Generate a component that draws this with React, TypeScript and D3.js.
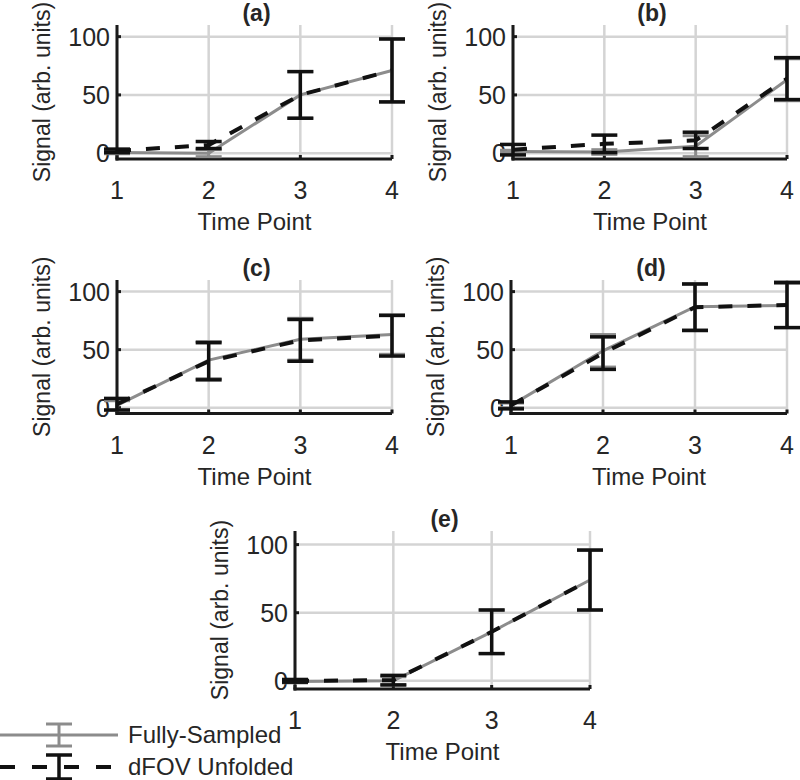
import React from "react";
import * as d3 from "d3";

// ---------- data ----------
const timePoints = [1, 2, 3, 4];
const xTickValues = [1, 2, 3, 4];
const yTickValues = [0, 50, 100];
const panelTitles = ["(a)", "(b)", "(c)", "(d)", "(e)"];
const xAxisLabel = "Time Point";
const yAxisLabel = "Signal (arb. units)";
const legendLabels = ["Fully-Sampled", "dFOV Unfolded"];

// Fully-Sampled (gray, solid)
const fsMeanA = [0.5, 0, 50, 71];
const fsErrA = [1, 3, 20, 27];
const fsMeanB = [1.5, 1, 6, 63];
const fsErrB = [1, 2, 9, 18];
const fsMeanC = [2, 41, 59, 63];
const fsErrC = [4, 16, 18, 17];
const fsMeanD = [2, 49, 87, 88];
const fsErrD = [2, 14, 20, 19];
const fsMeanE = [-0.5, 0, 36, 74];
const fsErrE = [1, 3, 16, 22];

// dFOV Unfolded (black, dashed)
const dfMeanA = [2, 7, 50, 71];
const dfErrA = [1.5, 3, 20, 27];
const dfMeanB = [3, 8, 11, 64];
const dfErrB = [4.5, 7.5, 7, 18];
const dfMeanC = [3, 40, 58, 62];
const dfErrC = [5, 16, 18, 17.5];
const dfMeanD = [2, 47, 86.5, 88.5];
const dfErrD = [3, 14, 20, 19.5];
const dfMeanE = [0, 0.5, 36, 74];
const dfErrE = [1, 3.5, 16, 22];

// ---------- layout / style ----------
const FONT = "'Liberation Sans', Arial, Helvetica, sans-serif";
const TEXT = "#262626";
const AXIS = "#1a1a1a";
const GRID = "#d4d4d4";
const GRAY = "#8c8c8c";
const BLACK = "#111111";
const CAP = 13;

type Layout = { x0: number; x1: number; yTop: number; yBot: number; yMin: number; yMax: number };

const layouts: Layout[] = [
  { x0: 117, x1: 392, yTop: 25, yBot: 159, yMin: -5, yMax: 110 },
  { x0: 513, x1: 787, yTop: 25, yBot: 159, yMin: -5, yMax: 110 },
  { x0: 117, x1: 392, yTop: 280, yBot: 413.5, yMin: -5, yMax: 110 },
  { x0: 511, x1: 787, yTop: 280, yBot: 413.5, yMin: -5, yMax: 110 },
  { x0: 295, x1: 590, yTop: 531, yBot: 689, yMin: -6, yMax: 110 },
];

const panelData = [
  { fsMean: fsMeanA, fsErr: fsErrA, dfMean: dfMeanA, dfErr: dfErrA },
  { fsMean: fsMeanB, fsErr: fsErrB, dfMean: dfMeanB, dfErr: dfErrB },
  { fsMean: fsMeanC, fsErr: fsErrC, dfMean: dfMeanC, dfErr: dfErrC },
  { fsMean: fsMeanD, fsErr: fsErrD, dfMean: dfMeanD, dfErr: dfErrD },
  { fsMean: fsMeanE, fsErr: fsErrE, dfMean: dfMeanE, dfErr: dfErrE },
];

function ErrorBars({ xs, means, errs, x, y, color, width }: any) {
  return (
    <g stroke={color} strokeWidth={width} fill="none">
      {xs.map((t: number, i: number) => {
        const cx = x(t);
        const yHi = y(means[i] + errs[i]);
        const yLo = y(means[i] - errs[i]);
        return (
          <g key={i}>
            <line x1={cx} x2={cx} y1={yHi} y2={yLo} />
            <line x1={cx - CAP} x2={cx + CAP} y1={yHi} y2={yHi} />
            <line x1={cx - CAP} x2={cx + CAP} y1={yLo} y2={yLo} />
          </g>
        );
      })}
    </g>
  );
}

function Panel({ layout, title, data }: { layout: Layout; title: string; data: any }) {
  const x = d3.scaleLinear().domain([1, 4]).range([layout.x0, layout.x1]);
  const y = d3.scaleLinear().domain([layout.yMin, layout.yMax]).range([layout.yBot, layout.yTop]);
  const line = d3
    .line<number>()
    .x((_, i) => x(timePoints[i]))
    .y((d) => y(d));
  const cx = (layout.x0 + layout.x1) / 2;
  const cy = (layout.yTop + layout.yBot) / 2;
  return (
    <g>
      {/* grid */}
      <g stroke={GRID} strokeWidth={2.5}>
        {xTickValues.map((t) => (
          <line key={"gx" + t} x1={x(t)} x2={x(t)} y1={layout.yTop} y2={layout.yBot} />
        ))}
        {yTickValues.map((t) => (
          <line key={"gy" + t} x1={layout.x0} x2={layout.x1} y1={y(t)} y2={y(t)} />
        ))}
      </g>
      {/* axes */}
      <g stroke={AXIS} strokeWidth={3}>
        <line x1={layout.x0} x2={layout.x0} y1={layout.yTop} y2={layout.yBot + 1.5} />
        <line x1={layout.x0 - 1.5} x2={layout.x1} y1={layout.yBot} y2={layout.yBot} />
        {xTickValues.map((t) => (
          <line key={"tx" + t} x1={x(t)} x2={x(t)} y1={layout.yBot} y2={layout.yBot - 4} />
        ))}
        {yTickValues.map((t) => (
          <line key={"ty" + t} x1={layout.x0} x2={layout.x0 + 4} y1={y(t)} y2={y(t)} />
        ))}
      </g>
      {/* tick labels */}
      <g fontFamily={FONT} fontSize={23} fill={TEXT}>
        {xTickValues.map((t) => (
          <text key={"lx" + t} x={x(t)} y={layout.yBot + 40} textAnchor="middle" fontSize={25}>
            {t}
          </text>
        ))}
        {yTickValues.map((t) => (
          <text key={"ly" + t} x={layout.x0 - 7} y={y(t) + 9} textAnchor="end" fontSize={25}>
            {t}
          </text>
        ))}
        <text x={cx} y={layout.yBot + 71} textAnchor="middle" fontSize={24}>
          {xAxisLabel}
        </text>
        <text transform={`translate(${layout.x0 - 67},${cy}) rotate(-90)`} textAnchor="middle">
          {yAxisLabel}
        </text>
        <text x={cx + 2} y={layout.yTop - 4} textAnchor="middle" fontWeight="bold" fontSize={23}>
          {title}
        </text>
      </g>
      {/* Fully-Sampled */}
      <path d={line(data.fsMean) || ""} fill="none" stroke={GRAY} strokeWidth={3} />
      <ErrorBars xs={timePoints} means={data.fsMean} errs={data.fsErr} x={x} y={y} color={GRAY} width={3} />
      {/* dFOV Unfolded */}
      <path d={line(data.dfMean) || ""} fill="none" stroke={BLACK} strokeWidth={4} strokeDasharray="14,15" />
      <ErrorBars xs={timePoints} means={data.dfMean} errs={data.dfErr} x={x} y={y} color={BLACK} width={3.5} />
    </g>
  );
}

function Legend() {
  const y1 = 735;
  const y2 = 767;
  const ex = 59;
  return (
    <g>
      <line x1={0} x2={118} y1={y1} y2={y1} stroke={GRAY} strokeWidth={3} />
      <g stroke={GRAY} strokeWidth={3}>
        <line x1={ex} x2={ex} y1={y1 - 11} y2={y1 + 11} />
        <line x1={ex - CAP} x2={ex + CAP} y1={y1 - 11} y2={y1 - 11} />
        <line x1={ex - CAP} x2={ex + CAP} y1={y1 + 11} y2={y1 + 11} />
      </g>
      <line x1={0} x2={118} y1={y2} y2={y2} stroke={BLACK} strokeWidth={4} strokeDasharray="15,17" />
      <g stroke={BLACK} strokeWidth={3.5}>
        <line x1={ex} x2={ex} y1={y2 - 12} y2={y2 + 12} />
        <line x1={ex - CAP} x2={ex + CAP} y1={y2 - 12} y2={y2 - 12} />
        <line x1={ex - CAP} x2={ex + CAP} y1={y2 + 12} y2={y2 + 12} />
      </g>
      <g fontFamily={FONT} fontSize={24} fill={TEXT}>
        <text x={128} y={y1 + 8}>{legendLabels[0]}</text>
        <text x={128} y={y2 + 8}>{legendLabels[1]}</text>
      </g>
    </g>
  );
}

export default function App() {
  return (
    <svg
      width={800}
      height={780}
      style={{ position: "absolute", left: 0, top: 0, background: "#fff" }}
    >
      <rect width={800} height={780} fill="#fff" />
      {layouts.map((l, i) => (
        <Panel key={i} layout={l} title={panelTitles[i]} data={panelData[i]} />
      ))}
      <Legend />
    </svg>
  );
}
